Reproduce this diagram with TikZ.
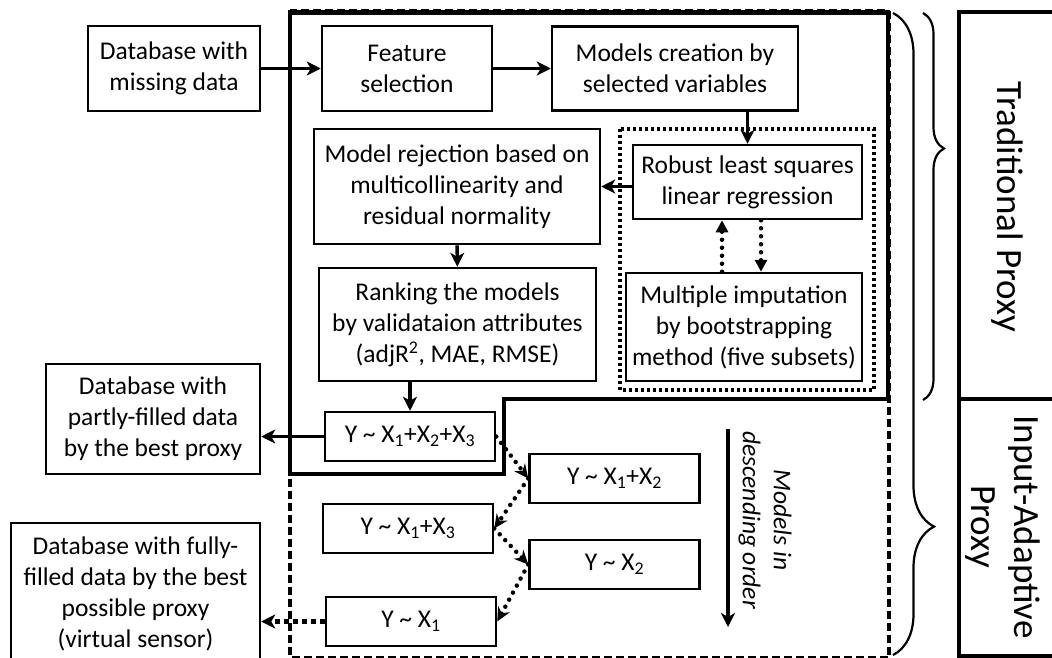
\documentclass[tikz,border=0pt]{standalone}
\usepackage{fontspec}
\setmainfont{Carlito}
\usetikzlibrary{arrows.meta,decorations.pathreplacing}
\begin{document}
\begin{tikzpicture}[x=1pt,y=-1pt,
  box/.style={draw,line width=2.5pt,align=center,inner sep=0pt,font=\fontsize{25.5}{31}\selectfont},
  ybox/.style={box,minimum width=170,minimum height=49},
  arr/.style={line width=3.5pt,-{Stealth[length=14pt,width=14pt,inset=4pt]}},
  vdot/.style={line width=4.5pt,line cap=round,dash pattern=on 0pt off 8pt,-{Triangle[length=12pt,width=12pt]}},
  dotarr/.style={line width=4.5pt,line cap=round,dash pattern=on 0pt off 8pt,-{Stealth[length=14pt,width=13pt]}},
  fullarr/.style={line width=5pt,dash pattern=on 5pt off 4pt,-{Stealth[length=14pt,width=14pt,inset=4pt]}},
  proxylabel/.style={rotate=-90,align=center,font=\fontsize{37}{43}\selectfont}]
\useasboundingbox (0,0) rectangle (1052,657);
\clip (0,0) rectangle (1052,657);

\draw[line width=3.5pt,dash pattern=on 8pt off 4pt] (290,11) rectangle (889,657.5);
\draw[line width=4.5pt] (290,12.5) -- (888,12.5) -- (888,399) -- (504,399) -- (504,474) -- (290,474) -- cycle;
\draw[line width=3.5pt,dash pattern=on 3pt off 3pt] (620,129) rectangle (874,390);

\node[box,minimum width=172,minimum height=85] (dbmiss) at (174,68.5) {Database with\\missing data};
\node[box,minimum width=170,minimum height=85] (feature) at (407,68.5) {Feature\\selection};
\node[box,minimum width=246,minimum height=84] (creation) at (675,68.5) {Models creation by\\selected variables};
\node[box,minimum width=286,minimum height=115] (reject) at (457,186.5) {Model rejection based on\\multicollinearity and\\residual normality};
\node[box,minimum width=229,minimum height=74] (robust) at (747.5,182) {Robust least squares\\linear regression};
\node[box,minimum width=236,minimum height=108] (impute) at (744,327) {Multiple imputation\\by bootstrapping\\method (five subsets)};
\node[box,minimum width=277,minimum height=113] (rank) at (457.5,324.5) {Ranking the models\\by validataion attributes\\(adjR\textsuperscript{2}, MAE, RMSE)};
\node[box,minimum width=214,minimum height=110] (partly) at (153,419) {Database with\\partly-filled data\\by the best proxy};
\node[box,minimum width=249,minimum height=142] (fully) at (135.5,594) {Database with fully-\\filled data by the best\\possible proxy\\(virtual sensor)};

\node[ybox] (y123) at (410,436.5) {Y \textasciitilde{} X\textsubscript{1}+X\textsubscript{2}+X\textsubscript{3}};
\node[ybox] (y12) at (614.5,478.5) {Y \textasciitilde{} X\textsubscript{1}+X\textsubscript{2}};
\node[ybox] (y13) at (408,528.5) {Y \textasciitilde{} X\textsubscript{1}+X\textsubscript{3}};
\node[ybox] (y2) at (614.5,564.5) {Y \textasciitilde{} X\textsubscript{2}};
\node[ybox] (y1) at (411,621.5) {Y \textasciitilde{} X\textsubscript{1}};

\draw[arr] (dbmiss) -- (feature);
\draw[arr] (feature) -- (creation);
\draw[arr] (robust.north |- creation.south) -- (robust.north);
\draw[arr] (robust.west |- reject.east) -- (reject.east);
\draw[arr] (reject) -- (rank);
\draw[arr] (rank.south -| y123.north) -- (y123.north);
\draw[arr] (y123.west) -- (y123.west -| partly.east);

\draw[vdot] ([xshift=-22]impute.north) -- ([xshift=-22]impute.north |- robust.south);
\draw[vdot] ([xshift=17]impute.north |- robust.south) -- ([xshift=17]impute.north);

\draw[dotarr] (y123.east) -- (y12.west);
\draw[dotarr] (y12.west) -- (y13.east);
\draw[dotarr] (y13.east) -- (y2.west);
\draw[dotarr] (y2.west) -- (y1.east);
\draw[fullarr] (y1.west) -- (y1.west -| fully.east);

\coordinate (ordtop) at (728,429);
\coordinate (ordbot) at (728,627);
\draw[arr] (ordtop) -- (ordbot);
\node[rotate=-90,align=center,font=\fontsize{25.5}{31}\selectfont\itshape] (ordlabel) at (765,520) {Models in\\descending order};

\draw[line width=2.2pt,decorate,decoration={brace,amplitude=21pt,aspect=0.35}] (923,13) -- (923,400);
\draw[line width=2.2pt,decorate,decoration={brace,amplitude=41pt,aspect=0.8}] (893,13) -- (893,655);

\draw[line width=3.5pt] (959,12) rectangle (1070,399);
\draw[line width=3.5pt] (959,399) rectangle (1070,656);
\node[proxylabel] (tradlabel) at (1007,207) {Traditional Proxy};
\node[proxylabel] (adaptlabel) at (1003,527) {Input-Adaptive\\Proxy};
\end{tikzpicture}
\end{document}
